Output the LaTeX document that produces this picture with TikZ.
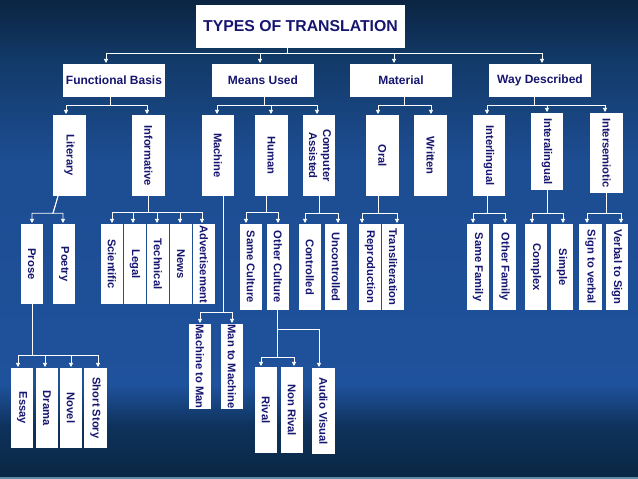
\documentclass[tikz,border=0pt]{standalone}
\usepackage{fontspec}
\setmainfont{Liberation Sans}
\usepackage{graphicx}
\usetikzlibrary{arrows.meta,calc}
\definecolor{txt}{RGB}{22,22,112}
\definecolor{bgA}{RGB}{11,36,66}
\definecolor{bgB}{RGB}{18,58,105}
\definecolor{bgC}{RGB}{29,77,146}
\definecolor{bgD}{RGB}{31,82,156}
\definecolor{bgE}{RGB}{14,50,92}
\definecolor{bgF}{RGB}{10,40,68}
\definecolor{edgeline}{RGB}{95,140,165}
\newcommand{\vt}[1]{\rotatebox{-90}{#1}}
\newcommand{\vtt}[2]{\rotatebox{-90}{\begin{tabular}{@{}c@{}}#1\\#2\end{tabular}}}
\begin{document}
\begin{tikzpicture}[x=1pt,y=-1pt,
  box/.style={fill=white, inner sep=0pt, text=txt, font=\bfseries\fontsize{11.2}{14}\selectfont},
  ltwo/.style={box, minimum width=102pt, minimum height=33pt, font=\bfseries\fontsize{12}{14}\selectfont},
  vb/.style 2 args={box, minimum width=#1pt, minimum height=#2pt},
  conn/.style={draw=white, line width=0.9pt},
  arr/.style={conn, -{Triangle[width=4.2pt,length=4.2pt]}, shorten >=0.8pt}]
\useasboundingbox (0,0) rectangle (638,479);
% background
\shade[top color=bgA, bottom color=bgB] (0,0) rectangle (638,60.5);
\shade[top color=bgB, bottom color=bgC] (0,60) rectangle (638,160.5);
\shade[top color=bgC, bottom color=bgD] (0,160) rectangle (638,385.5);
\shade[top color=bgD, bottom color=bgE] (0,385) rectangle (638,425.5);
\shade[top color=bgE, bottom color=bgF] (0,425) rectangle (638,476.5);
\fill[edgeline] (0,476.5) rectangle (638,479);
% level 1
\node[box, minimum width=209pt, minimum height=43pt, font=\bfseries\fontsize{15.8}{18}\selectfont] (title) at (300.5,26.5) {TYPES OF TRANSLATION};
% level 2
\node[ltwo] (fb) at (114,80.5) {Functional Basis};
\node[ltwo] (mu) at (263,80.5) {Means Used};
\node[ltwo] (mat) at (401,80.5) {Material};
\node[ltwo] (wd) at (540,80.5) {Way Described};
% level 3
\node[vb={33}{81}] (lit) at (69.5,155.5) {\vt{Literary}};
\node[vb={33}{81}] (inf) at (148.5,155.5) {\vt{Informative}};
\node[vb={32}{81}] (mach) at (218,155.5) {\vt{Machine}};
\node[vb={33}{81}] (hum) at (271.5,155.5) {\vt{Human}};
\node[vb={32}{81}] (ca) at (319,155.5) {\vtt{Computer}{Assisted}};
\node[vb={33}{81}] (oral) at (382.5,155.5) {\vt{Oral}};
\node[vb={33}{81}] (writ) at (430.5,155.5) {\vt{Written}};
\node[vb={32}{81}] (iling) at (489,155.5) {\vt{Interlingual}};
\node[vb={32}{77}] (ialing) at (547,151.5) {\vt{Interalingual}};
\node[vb={33}{80}] (isem) at (606.5,153) {\vt{Intersemiotic}};
% level 4
\node[vb={22}{80}] (prose) at (32,264) {\vt{Prose}};
\node[vb={22}{80}] (poetry) at (64,264) {\vt{Poetry}};
\node[vb={22}{80}] (sci) at (112,264) {\vt{Scientific}};
\node[vb={22}{80}] (legal) at (135,264) {\vt{Legal}};
\node[vb={22}{80}] (tech) at (158,264) {\vt{Technical}};
\node[vb={22}{80}] (news) at (181,264) {\vt{News}};
\node[vb={22}{80}] (adv) at (204,264) {\vt{Advertisement}};
\node[vb={22}{86}] (samec) at (251,267) {\vt{Same Culture}};
\node[vb={22}{86}] (otherc) at (278,267) {\vt{Other Culture}};
\node[vb={22}{86}] (ctrl) at (310,267) {\vt{Controlled}};
\node[vb={22}{86}] (unctrl) at (336,267) {\vt{Uncontrolled}};
\node[vb={22}{86}] (repro) at (370,267) {\vt{Reproduction}};
\node[vb={22}{86}] (translit) at (393,267) {\vt{Transliteration}};
\node[vb={22}{86}] (samef) at (478,267) {\vt{Same Family}};
\node[vb={23}{86}] (otherf) at (504.5,267) {\vt{Other Family}};
\node[vb={22}{86}] (complex) at (536,267) {\vt{Complex}};
\node[vb={22}{86}] (simple) at (562,267) {\vt{Simple}};
\node[vb={23}{86}] (s2v) at (590.5,267) {\vt{Sign to verbal}};
\node[vb={22}{86}] (v2s) at (617,267) {\vt{Verbal to Sign}};
% level 5
\node[vb={22}{85}] (m2m) at (200,366.5) {\vt{Machine to Man}};
\node[vb={22}{85}] (man2m) at (232,366.5) {\vt{Man to Machine}};
\node[vb={22}{80}] (essay) at (22,408) {\vt{Essay}};
\node[vb={22}{80}] (drama) at (47,408) {\vt{Drama}};
\node[vb={22}{80}] (novel) at (71,408) {\vt{Novel}};
\node[vb={23}{80}] (sstory) at (95.5,408) {\vt{Short Story}};
\node[vb={22}{86}] (rival) at (266,410) {\vt{Rival}};
\node[vb={22}{86}] (nrival) at (292,410) {\vt{Non Rival}};
\node[vb={23}{86}] (av) at (323.5,411) {\vt{Audio Visual}};
% connectors level 1
\draw[conn] ([xshift=-13.5pt]title.south) -- ++(0,5);
\foreach \c/\cs in {fb/-8, mu/-3, mat/-7, wd/2}
  \draw[arr] ([xshift=-13.5pt]title.south) ++(0,5) -| ([xshift=\cs pt]\c.north);
% connectors below
\foreach \p/\ps/\d/\c/\cs in {
  fb/-4/8/lit/-3.5, fb/-4/8/inf/-1.5,
  mu/1/8/mach/-1, mu/1/8/hum/-0.5, mu/1/8/ca/-2,
  mat/3/8/oral/-4.5, mat/3/8/writ/0.5,
  wd/-6/8/iling/-2, wd/-6/8/ialing/0, wd/-6/8/isem/-1.5,
  inf/-0.5/16/sci/0, inf/-0.5/16/legal/-2, inf/-0.5/16/tech/-1, inf/-0.5/16/news/-1, inf/-0.5/16/adv/-2,
  mach/5/116/m2m/0, mach/5/116/man2m/0,
  hum/-5.5/16/samec/-5, hum/-5.5/16/otherc/0,
  ca/0/17/ctrl/-5, ca/0/17/unctrl/2,
  oral/-4.5/17/repro/-8, oral/-4.5/17/translit/4,
  iling/-2/17/samef/-5, iling/-2/17/otherf/0.5,
  ialing/0/23/complex/-4, ialing/0/23/simple/1,
  isem/-0.5/20/s2v/-3.5, isem/-0.5/20/v2s/4,
  prose/0/51/essay/-4, prose/0/51/drama/-2, prose/0/51/novel/0, prose/0/51/sstory/2.5,
  otherc/-1/47/rival/-5, otherc/-1/47/nrival/2}
  \draw[arr] ([xshift=\ps pt]\p.south) -- ++(0,\d) -| ([xshift=\cs pt]\c.north);
\draw[arr] ([xshift=-11.5pt]lit.south) -- ++(-5,17) -| (prose.north);
\draw[arr] ([xshift=-11.5pt]lit.south) -- ++(-5,17) -| ([xshift=-1pt]poetry.north);
\draw[arr] ([xshift=-1pt]otherc.south) ++(0,19) -| ([xshift=-4.5pt]av.north);
\end{tikzpicture}
\end{document}
